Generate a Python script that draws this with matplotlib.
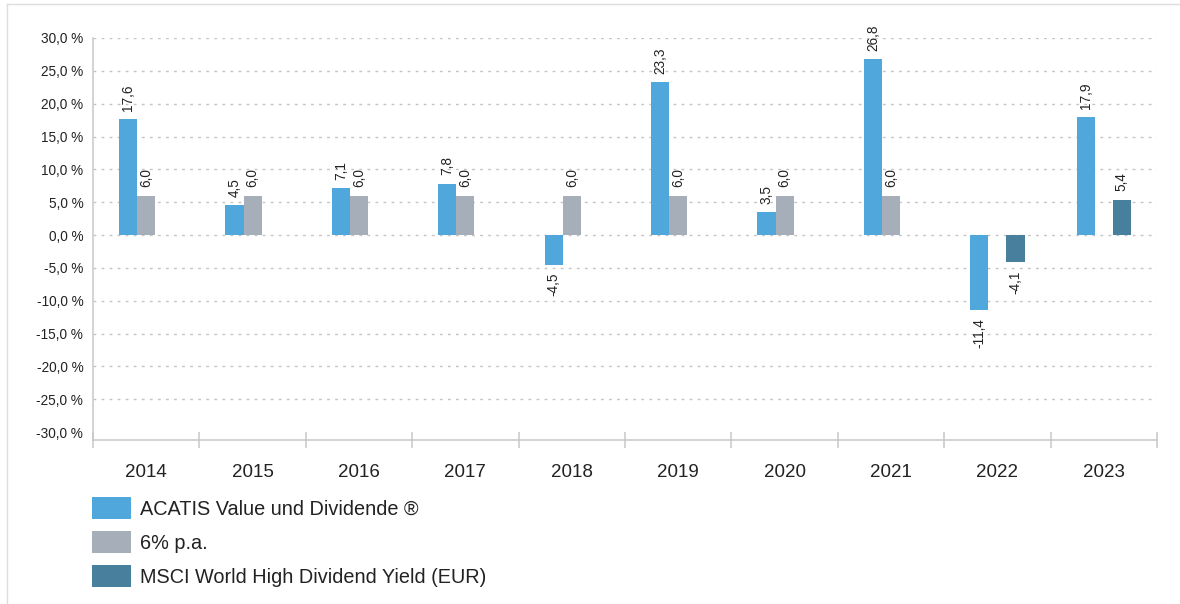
import numpy as np
import matplotlib
matplotlib.use("Agg")
import matplotlib.pyplot as plt
from matplotlib.patches import Patch
from matplotlib.lines import Line2D

plt.rcParams['font.family'] = ['Liberation Sans', 'DejaVu Sans']

years = ['2014', '2015', '2016', '2017', '2018', '2019', '2020', '2021', '2022', '2023']
acatis = [17.6, 4.5, 7.1, 7.8, -4.5, 23.3, 3.5, 26.8, -11.4, 17.9]
target = [6.0, 6.0, 6.0, 6.0, 6.0, 6.0, 6.0, 6.0, np.nan, np.nan]
msci = [np.nan, np.nan, np.nan, np.nan, np.nan, np.nan, np.nan, np.nan, -4.1, 5.4]
names = ['ACATIS Value und Dividende ®', '6% p.a.', 'MSCI World High Dividend Yield (EUR)']
colors = ['#4fa7dc', '#a5aeb9', '#477f9c']
yticks = [-30, -25, -20, -15, -10, -5, 0, 5, 10, 15, 20, 25, 30]

fig = plt.figure(figsize=(11.8, 6.04), dpi=100)
ax = fig.add_axes([93/1180, 1-440/604, (1157-93)/1180, (440-38)/604])

x = np.arange(len(years))
w = 0.17
offsets = [-w, 0, w]
txt = '#222222'
for vals, off, c in zip([acatis, target, msci], offsets, colors):
    bars = ax.bar(x + off, vals, width=w, color=c, edgecolor='none', zorder=3)
    for xi, v in zip(x, vals):
        if np.isnan(v):
            continue
        lab = ('%.1f' % v).replace('.', ',')
        if v >= 0:
            ax.annotate(lab, (xi + off, v), xytext=(0, 6), textcoords='offset points',
                        rotation=90, ha='center', va='bottom', fontsize=9.8, color=txt)
        else:
            ax.annotate(lab, (xi + off, v), xytext=(0, -6), textcoords='offset points',
                        rotation=90, ha='center', va='top', fontsize=9.8, color=txt)

ax.set_xlim(-0.5, 9.5)
ax.set_ylim(-31.2, 30)

ax.set_yticks(yticks)
ax.set_yticklabels([('%.1f %%' % t).replace('.', ',') for t in yticks], fontsize=9.8, color=txt)
ax.tick_params(axis='y', length=0, pad=7)

ax.set_xticks(np.arange(-0.5, 10, 1))
ax.set_xticklabels([])
ax.set_xticks(x, minor=True)
ax.set_xticklabels(years, minor=True, fontsize=13.5, color=txt)
ax.tick_params(axis='x', which='major', direction='inout', length=11, width=1.1, color='#c8c8c8')
ax.tick_params(axis='x', which='minor', length=0, pad=17)

ax.grid(axis='y', color='#c4c4c4', linestyle=(0, (2, 3.8)), linewidth=1.0, zorder=0)
ax.get_ygridlines()[0].set_visible(False)

for s in ['top', 'right']:
    ax.spines[s].set_visible(False)
for s in ['left', 'bottom']:
    ax.spines[s].set_color('#c8c8c8')
    ax.spines[s].set_linewidth(1.1)

handles = [Patch(facecolor=c, edgecolor='none') for c in colors]
fig.legend(handles, names, loc='upper left', bbox_to_anchor=(92/1180, 1-497/604),
           bbox_transform=fig.transFigure, frameon=False, fontsize=14.3,
           borderpad=0, borderaxespad=0, handlelength=1.96, handleheight=1.335,
           labelspacing=0.6, handletextpad=0.45, labelcolor=txt)

# light frame at top and left edge
fig.add_artist(Line2D([7/1180, 1], [1-4/604, 1-4/604], transform=fig.transFigure, color='#dddddd', lw=1))
fig.add_artist(Line2D([7/1180, 7/1180], [0, 1-4/604], transform=fig.transFigure, color='#dddddd', lw=1))

fig.savefig('out.png', dpi=100)
